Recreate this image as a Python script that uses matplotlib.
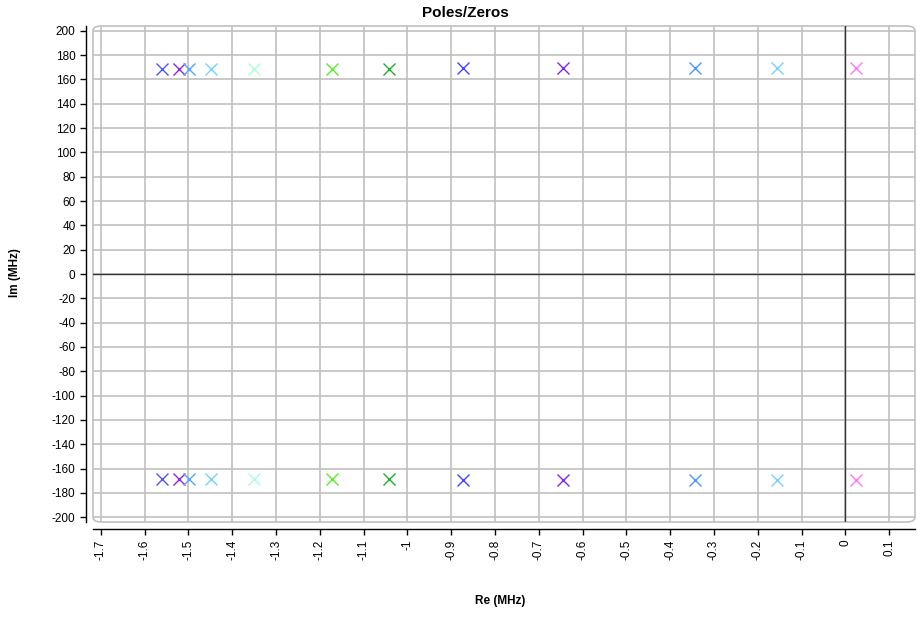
import numpy as np
import matplotlib
matplotlib.use('Agg')
import matplotlib.pyplot as plt
from matplotlib.patches import FancyBboxPatch

plt.rcParams['font.family'] = ['Liberation Sans', 'DejaVu Sans']

# poles (real part, +/- imaginary part), MHz
pole_re = [-1.561, -1.522, -1.499, -1.449, -1.351, -1.172, -1.042,
           -0.873, -0.644, -0.343, -0.155, 0.025]
pole_im = [169.0, 169.0, 169.0, 169.0, 169.0, 169.0, 169.0,
           169.8, 169.8, 169.8, 169.8, 169.8]
pole_colors = ['#5252ff', '#9126e6', '#55a3ff', '#77d2ff', '#a8ffd8', '#55f028',
               '#22b030', '#4545ff', '#8424ee', '#4a96ff', '#77d0ff', '#ff77ff']

x_ticks = np.round(np.arange(-1.7, 0.15, 0.1), 1)
y_ticks = np.arange(-200, 201, 20)

fig = plt.figure(figsize=(9.17, 6.19), dpi=100)
ax = fig.add_axes([0.1014, 0.1567, 0.8964, 0.8013])

for re, im, c in zip(pole_re, pole_im, pole_colors):
    ax.plot([re, re], [im, -im], linestyle='none', marker='x',
            markersize=8.5, markeredgewidth=1.0, color=c, zorder=3)

ax.axhline(0, color='#333333', linewidth=1.0, zorder=2)
ax.axvline(0, color='#333333', linewidth=1.0, zorder=2)

ax.set_xlim(-1.718, 0.159)
ax.set_ylim(-204, 204)
ax.set_xticks(x_ticks)
ax.set_xticklabels(['{:g}'.format(v) for v in x_ticks])
ax.set_yticks(y_ticks)
ax.set_yticklabels(['{:d}'.format(v) for v in y_ticks])
ax.tick_params(labelsize=8.5, length=4, width=1, color='black')
ax.tick_params(axis='x', labelrotation=90)
ax.grid(True, color='#c0c0c0', linewidth=1.2, zorder=0)
ax.set_axisbelow(True)

# light rounded frame round the plot area
frame = FancyBboxPatch((0, 0), 1, 1, boxstyle='round,pad=0,rounding_size=0.01',
                       transform=ax.transAxes, facecolor='none',
                       edgecolor='#c0c0c0', linewidth=1.2, zorder=1,
                       clip_on=False)
ax.add_patch(frame)

for side in ['top', 'right']:
    ax.spines[side].set_visible(False)
for side in ['left', 'bottom']:
    ax.spines[side].set_position(('outward', 5))
    ax.spines[side].set_linewidth(1.0)

fig.text(0.507, 0.979, 'Poles/Zeros', ha='center', va='center',
         fontsize=11, fontweight='bold')
fig.text(0.546, 0.029, 'Re (MHz)', ha='center', va='center',
         fontsize=8.5, fontweight='bold')
fig.text(0.016, 0.56, 'Im (MHz)', ha='center', va='center', rotation=90,
         fontsize=8.5, fontweight='bold')

fig.savefig('out.png', dpi=100)
